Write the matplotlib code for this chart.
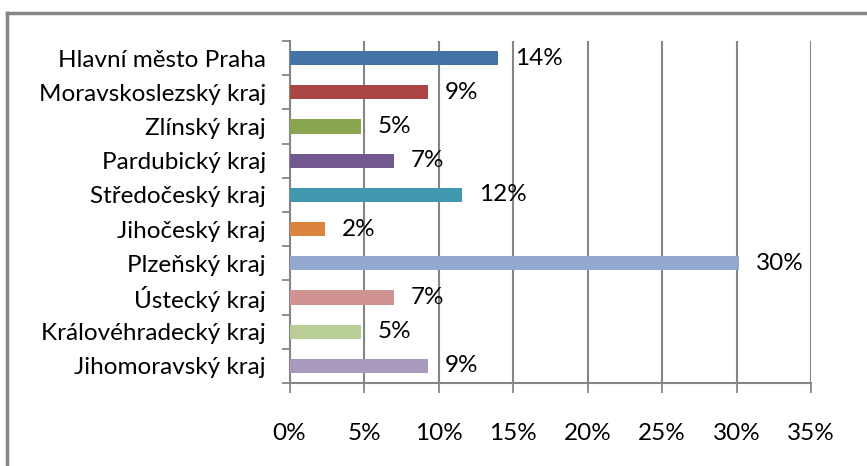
import matplotlib
matplotlib.use("Agg")
import matplotlib.pyplot as plt
from matplotlib.lines import Line2D
import numpy as np

# data, top to bottom as in the chart
regions = ["Hlavní město Praha", "Moravskoslezský kraj", "Zlínský kraj",
           "Pardubický kraj", "Středočeský kraj", "Jihočeský kraj",
           "Plzeňský kraj", "Ústecký kraj", "Královéhradecký kraj",
           "Jihomoravský kraj"]
shares = [14.0, 9.3, 4.8, 7.0, 11.6, 2.4, 30.2, 7.0, 4.8, 9.3]
labels = ["14%", "9%", "5%", "7%", "12%", "2%", "30%", "7%", "5%", "9%"]
colors = ["#4572A7", "#AA4643", "#89A54E", "#71588F", "#4198AF",
          "#DB843D", "#93A9CF", "#D19392", "#B9CD96", "#A99BBD"]
xticks = [0, 5, 10, 15, 20, 25, 30, 35]

plt.rcParams['font.family'] = ['Lato', 'DejaVu Sans']
FS = 17.5

W, H = 867, 466
fig = plt.figure(figsize=(W / 100, H / 100), dpi=100)
ax = fig.add_axes([289.5 / W, (H - 383) / H, (811 - 289.5) / W, (383 - 41) / H])

pos = np.arange(len(regions))[::-1]
ax.barh(pos, shares, height=0.42, color=colors, zorder=3)
for p, v, t in zip(pos, shares, labels):
    ax.annotate(t, (v, p), xytext=(12, 0), textcoords="offset points",
                va="center", ha="left", fontsize=FS)

ax.set_xlim(0, 35)
ax.set_ylim(-0.5, len(regions) - 0.5)
ax.set_xticks(xticks)
ax.set_xticklabels([f"{x}%" for x in xticks], fontsize=FS)
ax.set_yticks(pos)
ax.set_yticklabels(regions, fontsize=FS)
ax.set_yticks(np.arange(len(regions) + 1) - 0.5, minor=True)
ax.tick_params(axis="y", which="major", length=0, pad=17)
ax.tick_params(axis="y", which="minor", length=6, width=1.3, color="#868686")
ax.tick_params(axis="x", length=7, width=1.3, color="#868686", pad=22)

ax.grid(axis="x", color="#868686", linewidth=1.5, zorder=0)
for s in ["top", "right"]:
    ax.spines[s].set_visible(False)
for s in ["left", "bottom"]:
    ax.spines[s].set_color("#868686")
    ax.spines[s].set_linewidth(1.5)

# chart frame (clipped at right and bottom)
fig.add_artist(Line2D([7 / W, 1], [1 - 12.5 / H] * 2, color="#868686", lw=2.5))
fig.add_artist(Line2D([7 / W] * 2, [0, 1 - 12.5 / H], color="#868686", lw=2.5))

fig.savefig("out.png", dpi=100)
